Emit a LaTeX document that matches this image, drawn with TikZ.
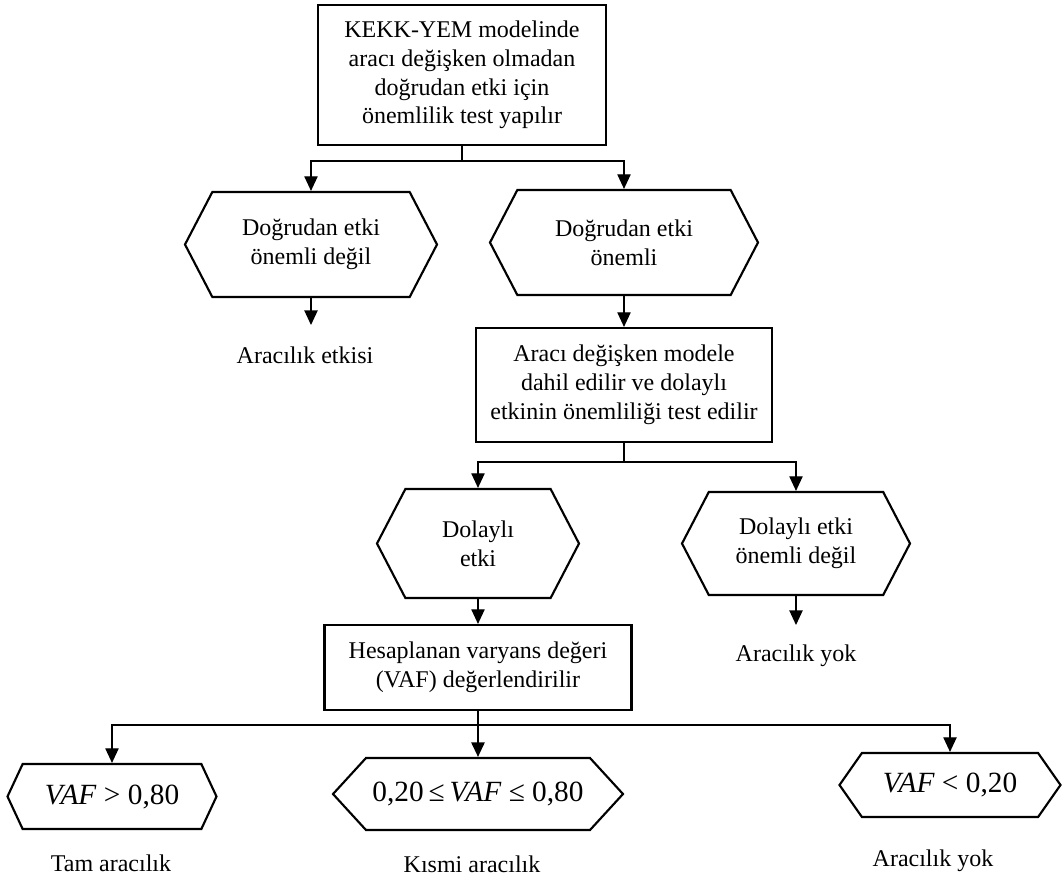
\documentclass[tikz,border=0pt]{standalone}
\usepackage{fontspec}
\setmainfont{Liberation Serif}
\usetikzlibrary{arrows.meta, shapes.symbols}

\tikzset{
  kutu/.style={draw, line width=1.6pt, rectangle, align=center, inner sep=0pt},
  altigen/.style={draw, line width=1.6pt, signal, signal to=west and east, signal pointer angle=125, align=center, inner sep=0pt},
  ok/.style={line width=1pt, -{Triangle[width=10pt,length=11pt]}},
  hat/.style={line width=1pt},
  etiket/.style={align=center, inner sep=0pt},
  vaf/.style={altigen, font=\fontsize{22}{26}\selectfont}
}

\begin{document}
\begin{tikzpicture}[x=0.75pt, y=-0.75pt, font=\fontsize{18}{21.6}\selectfont]
\useasboundingbox (0,0) rectangle (1064,879);

\node[kutu, minimum width=216pt, minimum height=105pt] (ust) at (462,75)
  {KEKK-YEM modelinde\\aracı değişken olmadan\\doğrudan etki için\\önemlilik test yapılır};
\node[altigen, minimum width=189pt, minimum height=78.75pt] (h1) at (311,244.5) {Doğrudan etki\\önemli değil};
\node[altigen, minimum width=201pt, minimum height=78.75pt] (h2) at (624,242.5) {Doğrudan etki\\önemli};
\node[etiket] (l1) at (305,355) {Aracılık etkisi};
\node[kutu, minimum width=222pt, minimum height=85.5pt] (orta) at (624,385)
  {Aracı değişken modele\\dahil edilir ve dolaylı\\etkinin önemliliği test edilir};
\node[altigen, minimum width=151.5pt, minimum height=81.75pt] (h3) at (478,543.5) {Dolaylı\\etki};
\node[altigen, minimum width=171pt, minimum height=77.25pt] (h4) at (796,543.5) {Dolaylı etki\\önemli değil};
\node[etiket] (l2) at (796,656) {Aracılık yok};
\node[kutu, minimum width=230.25pt, minimum height=63.75pt] (alt) at (478,667.5)
  {Hesaplanan varyans değeri\\(VAF) değerlendirilir};

%.... VAF sonuclari
\node[vaf, signal pointer angle=130, minimum width=156.75pt, minimum height=48.75pt] (v1) at (112,796.5) {\textit{VAF} > 0,80};
\node[vaf, signal pointer angle=95, minimum width=217.5pt, minimum height=54pt] (v2) at (478,794) {0,20\,≤\,\textit{VAF} ≤ 0,80};
\node[vaf, signal pointer angle=110, minimum width=165.75pt, minimum height=48pt] (v3) at (950,785) {\textit{VAF} < 0,20};
\node[etiket] (t1) at (111,863) {Tam aracılık};
\node[etiket] (t2) at (472,864) {Kısmi aracılık};
\node[etiket] (t3) at (933,861) {Aracılık yok};

\coordinate (e1) at (311,325);
\coordinate (e2) at (796,625);

\draw[hat] (ust.south) -- ++(0,15) coordinate (c1);
\draw[ok] (c1) -| (h1.north);
\draw[ok] (c1) -| (h2.north);
\draw[ok] (h1.south) -- (e1);
\draw[ok] (h2.south) -- (orta.north);
\draw[hat] (orta.south) -- ++(0,19) coordinate (c2);
\draw[ok] (c2) -| (h3.north);
\draw[ok] (c2) -| (h4.north);
\draw[ok] (h4.south) -- (e2);
\draw[ok] (h3.south) -- (alt.north);
\draw[ok, line width=1.5pt] (alt.south) -- (v2.north);
\draw[hat] (alt.south) ++(0,14) coordinate (c3);
\draw[ok] (c3) -| (v1.north);
\draw[ok] (c3) -| (v3.north);
\end{tikzpicture}
\end{document}
